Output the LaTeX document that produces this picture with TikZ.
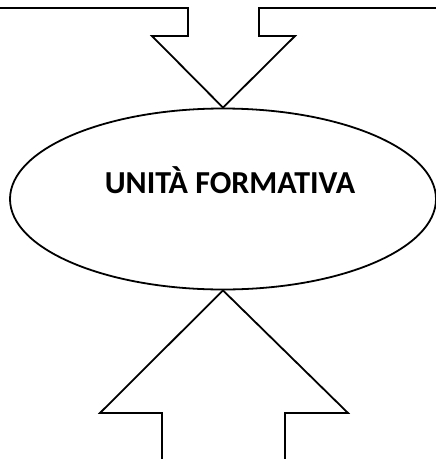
\documentclass[tikz,border=0pt]{standalone}
\usepackage{fontspec}
\setmainfont{Carlito}
\usetikzlibrary{shapes.geometric}
\tikzset{
  outline/.style={draw=black, line width=1.8pt, line join=miter},
  unit/.style={ellipse, outline, minimum width=426pt, minimum height=181pt, inner sep=0pt},
  label/.style={inner sep=0pt, font=\fontsize{32}{38}\selectfont\bfseries}
}
\begin{document}
\begin{tikzpicture}[x=1pt,y=-1pt]
\useasboundingbox (0,0) rectangle (436,459);
\node[unit] (uf) at (223,199) {};
\node[label] (lbl) at (230,180) {UNITÀ FORMATIVA};
% top block arrow
\draw[outline] (0,8) -- (188,8) -- (188,36) -- (152,36) -- (uf.north) -- (295,36) -- (259,36) -- (259,8) -- (436,8);
% bottom block arrow
\draw[outline] (162,459) -- (162,413) -- (100,413) -- (uf.south) -- (348,413) -- (285,413) -- (285,459);
\end{tikzpicture}
\end{document}
